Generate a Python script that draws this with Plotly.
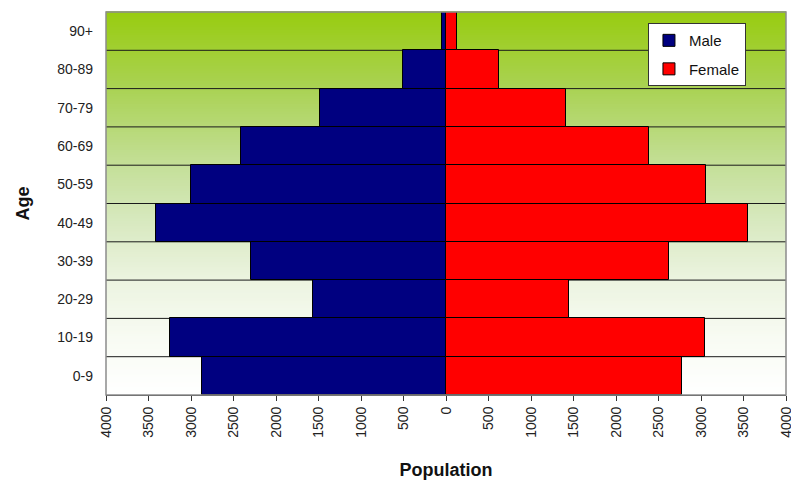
import plotly.graph_objects as go

# Age groups, bottom to top
age_groups = ["0-9", "10-19", "20-29", "30-39", "40-49",
              "50-59", "60-69", "70-79", "80-89", "90+"]
male = [2865, 3245, 1570, 2300, 3410, 3000, 2410, 1480, 510, 50]
female = [2780, 3050, 1450, 2625, 3555, 3055, 2390, 1410, 625, 125]

tick_values = list(range(-4000, 4001, 500))
tick_labels = [str(abs(v)) for v in tick_values]

FONT = "Liberation Sans, Arial, sans-serif"

fig = go.Figure()
ypos = list(range(len(age_groups)))

fig.add_trace(go.Bar(
    y=ypos, x=[-v for v in male], orientation="h", name="Male",
    marker=dict(color="#000080", line=dict(color="#000000", width=1)),
    width=1, legendgroup="m",
    customdata=male, hovertemplate="%{customdata}<extra>Male</extra>",
))
fig.add_trace(go.Bar(
    y=ypos, x=female, orientation="h", name="Female",
    marker=dict(color="#FF0000", line=dict(color="#000000", width=1)),
    width=1, legendgroup="f",
    hovertemplate="%{x}<extra>Female</extra>",
))

# vertical green-to-white gradient behind the bars
stops = [(0.0, (255, 255, 255)), (0.15, (248, 251, 243)), (0.3, (236, 244, 224)),
         (0.45, (216, 233, 192)), (0.6, (196, 223, 152)), (0.8, (170, 210, 84)),
         (1.0, (152, 204, 16))]


def blend(t):
    for (t0, c0), (t1, c1) in zip(stops[:-1], stops[1:]):
        if t0 <= t <= t1:
            f = (t - t0) / (t1 - t0)
            return "rgb(%d,%d,%d)" % tuple(round(a + (b - a) * f) for a, b in zip(c0, c1))
    return "rgb(%d,%d,%d)" % stops[-1][1]


shapes = []
n = 150
for i in range(n):
    y0 = i / n
    y1 = (i + 1) / n
    shapes.append(dict(type="rect", xref="x domain", yref="y domain",
                       x0=0, x1=1, y0=y0, y1=y1 + 0.002,
                       fillcolor=blend((y0 + y1) / 2), line=dict(width=0),
                       layer="below"))

# row separators
for k in range(len(age_groups) - 1):
    shapes.append(dict(type="line", xref="x domain", yref="y",
                       x0=0, x1=1, y0=k + 0.5, y1=k + 0.5,
                       line=dict(color="#1a1a1a", width=1), layer="below"))

# plot-area frame
shapes.append(dict(type="rect", xref="x domain", yref="y domain",
                   x0=0, x1=1, y0=0, y1=1,
                   line=dict(color="#8c8c8c", width=1.5), layer="above"))

fig.update_layout(
    width=791, height=484,
    margin=dict(l=106, r=5, t=12, b=89),
    paper_bgcolor="white", plot_bgcolor="white",
    barmode="overlay", bargap=0,
    shapes=shapes,
    font=dict(family=FONT, size=14, color="#222222"),
    showlegend=True,
    legend=dict(x=0.797, y=0.971, xanchor="left", yanchor="top",
                bgcolor="white", bordercolor="#333333", borderwidth=1,
                itemwidth=30, tracegroupgap=6,
                font=dict(size=15, color="#111111")),
    xaxis=dict(range=[-4000, 4000], tickvals=tick_values, ticktext=tick_labels,
               tickangle=-90, ticks="outside", ticklen=5, tickcolor="#333333",
               ticklabeloverflow="allow", automargin=False,
               showgrid=False, zeroline=False, showline=True,
               linecolor="#333333", linewidth=1,
               tickfont=dict(size=14, color="#222222"),
               title=dict(text="<b>Population</b>", standoff=26,
                          font=dict(size=18, color="#111111"))),
    yaxis=dict(range=[-0.5, len(age_groups) - 0.5], tickvals=ypos,
               ticktext=age_groups, showgrid=False, zeroline=False,
               ticks="", showline=False, ticklabelstandoff=12,
               automargin=False,
               tickfont=dict(size=14, color="#222222"),
               title=dict(text="<b>Age</b>", standoff=22,
                          font=dict(size=18, color="#111111"))),
)

fig.write_html("out.html")
